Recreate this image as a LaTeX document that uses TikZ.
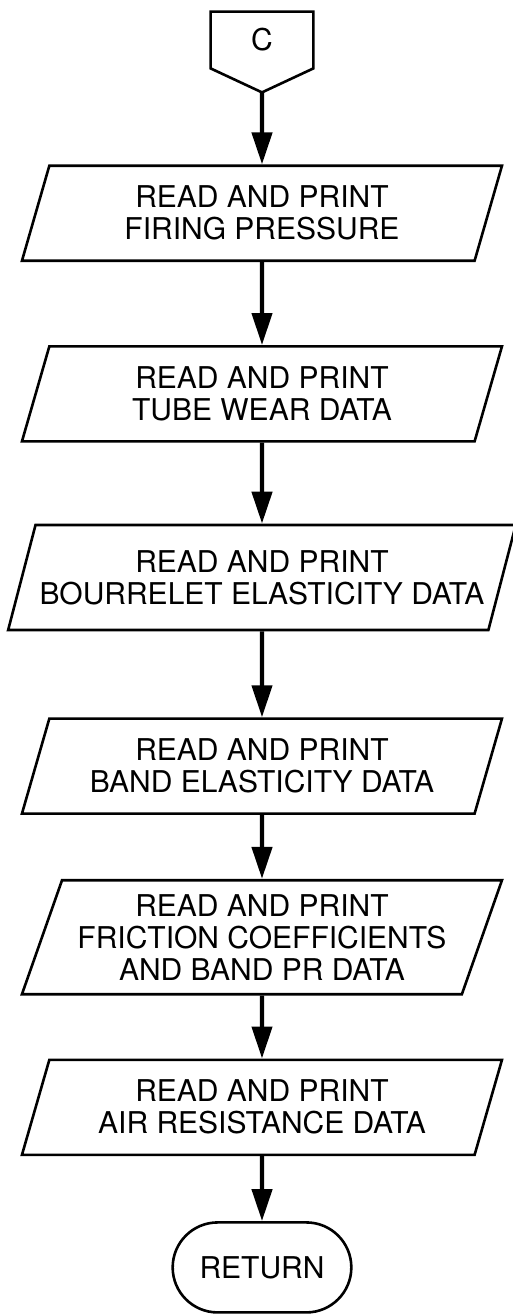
\documentclass[tikz,border=0pt]{standalone}
\usepackage{fontspec}
\setmainfont{TeX Gyre Heros}
\usetikzlibrary{positioning}
\usetikzlibrary{shapes.geometric}
\usetikzlibrary{shapes.misc}
\usetikzlibrary{arrows.meta}
\tikzstyle{io} = [trapezium, trapezium left angle=68, trapezium right angle=112, trapezium stretches body, draw, line width=1.3pt, minimum width=240pt, minimum height=47.5pt, align=center, inner xsep=2pt]
\tikzstyle{terminal} = [rounded rectangle, draw, line width=1.3pt, minimum width=96pt, minimum height=45pt]
\tikzstyle{offpage} = [minimum width=51pt, minimum height=28pt, inner sep=0pt]
\tikzstyle{flow} = [-{Triangle[length=16pt,width=10pt]}, line width=2.2pt]

\begin{document}
\begin{tikzpicture}[node distance=40pt, font=\fontsize{15}{16}\selectfont]
        \useasboundingbox (0,0) rectangle (256.5pt,-658pt);

        \node[offpage] (conn) at (131pt,-20pt) {C};
        \draw[line width=1.3pt] (conn.north west) -- (conn.north east) -- (conn.south east)
            -- ([yshift=-12pt]conn.south) coordinate (conntip) -- (conn.south west) -- cycle;

        \node[io] (firing) [below=36pt of conntip] {READ AND PRINT\\FIRING PRESSURE};
        \node[io] (tube) [below=41.5pt of firing] {READ AND PRINT\\TUBE WEAR DATA};
        \node[io, minimum height=52.5pt] (bourrelet) [below=40.5pt of tube] {READ AND PRINT\\BOURRELET ELASTICITY DATA};
        \node[io] (band) [below=43pt of bourrelet] {READ AND PRINT\\BAND ELASTICITY DATA};
        \node[io, minimum height=57pt] (friction) [below=32pt of band] {READ AND PRINT\\FRICTION COEFFICIENTS\\AND BAND PR DATA};
        \node[io] (air) [below=31.5pt of friction] {READ AND PRINT\\AIR RESISTANCE DATA};
        \node[terminal] (return) [below=32.5pt of air] {RETURN};

        \draw[flow] (conntip) -- (firing);
        \foreach \a/\b in {firing/tube, tube/bourrelet, bourrelet/band, band/friction, friction/air, air/return}
            \draw[flow] (\a) -- (\b);
\end{tikzpicture}
\end{document}
